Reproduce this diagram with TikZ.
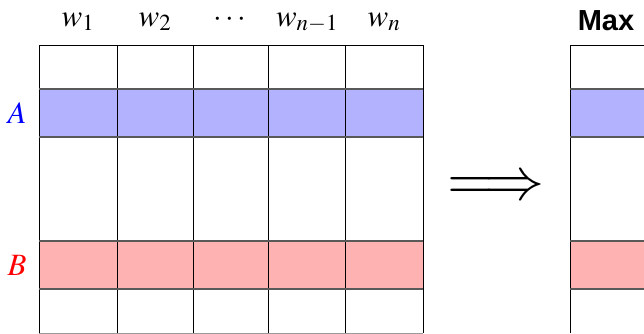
\documentclass[tikz,border=0pt]{standalone}
\usepackage{mathptmx}
\usepackage[no-math]{fontspec}
\setsansfont{Liberation Sans}
\tikzset{
  gridline/.style={black,line width=0.6pt},
  band/.style={draw=black!65,line width=1.2pt},
  head/.style={font=\fontsize{31}{37}\selectfont,anchor=base,inner sep=0pt},
}
\begin{document}
\begin{tikzpicture}[x=1pt,y=-1pt]
\useasboundingbox (0,0) rectangle (644,333);
\clip (0,0) rectangle (644,333);
% left table
\draw[gridline] (39,45) -- (423,45);
\fill[blue!30] (39,89) rectangle (423,137);
\fill[red!30] (39,241) rectangle (423,289);
\foreach \x in {39,117,193,268,345,423}
  \draw[gridline] (\x,45) -- (\x,333);
\draw[band] (39,89) -- (423,89) (39,137) -- (423,137);
\draw[band] (39,241) -- (423,241) (39,289) -- (423,289);
\draw[gridline,black!40] (39,333) -- (423,333);
% column labels
\node[head] (w1) at (78,26) {$w_1$};
\node[head] (w2) at (155,26) {$w_2$};
\node[head] (wd) at (230,26) {$\cdots$};
\node[head] (wm) at (307,26) {$w_{n-1}$};
\node[head] (wn) at (384,26) {$w_n$};
% row labels
\node[head,text=blue] (A) at (17,123) {$A$};
\node[head,text=red] (B) at (17,275) {$B$};
% arrow
\node[font=\fontsize{30}{36}\selectfont,inner sep=0pt,scale=2] (impl) at (496,189) {$\Longrightarrow$};
% right table (cut off)
\fill[blue!30] (570,89) rectangle (650,137);
\fill[red!30] (570,241) rectangle (650,289);
\draw[gridline] (570,333) -- (570,45) -- (650,45);
\draw[band] (570,89) -- (650,89) (570,137) -- (650,137);
\draw[band] (570,241) -- (650,241) (570,289) -- (650,289);
\node[head,font=\fontsize{29}{35}\selectfont\sffamily\bfseries] (max) at (606,30) {Max};
\end{tikzpicture}
\end{document}
